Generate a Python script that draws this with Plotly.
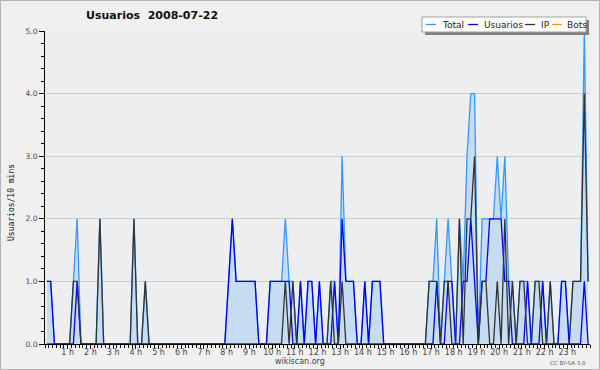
import plotly.graph_objects as go

# 10-minute slots over the day (0 .. 143)
slots = list(range(144))

total = [
    1, 1, 0, 0, 0, 0, 0, 1, 2, 0, 0, 0, 0, 0, 2, 0, 0, 0, 0, 0, 0, 0, 0, 2,
    0, 0, 1, 0, 0, 0, 0, 0, 0, 0, 0, 0, 0, 0, 0, 0, 0, 0, 0, 0, 0, 0, 0, 0,
    1, 2, 1, 1, 1, 1, 1, 1, 0, 0, 0, 1, 1, 1, 1, 2, 1, 1, 0, 1, 0, 1, 1, 0,
    1, 0, 0, 1, 1, 0, 3, 1, 1, 1, 0, 0, 1, 0, 1, 1, 1, 0, 0, 0, 0, 0, 0, 0,
    0, 0, 0, 0, 0, 1, 1, 2, 0, 1, 2, 1, 0, 2, 1, 3, 4, 4, 0, 2, 2, 2, 2, 3,
    2, 3, 1, 1, 0, 1, 1, 1, 0, 1, 1, 1, 0, 1, 0, 0, 1, 1, 0, 1, 1, 1, 5, 1,
]
usuarios = [
    1, 1, 0, 0, 0, 0, 0, 0, 1, 0, 0, 0, 0, 0, 0, 0, 0, 0, 0, 0, 0, 0, 0, 0,
    0, 0, 0, 0, 0, 0, 0, 0, 0, 0, 0, 0, 0, 0, 0, 0, 0, 0, 0, 0, 0, 0, 0, 0,
    1, 2, 1, 1, 1, 1, 1, 1, 0, 0, 0, 1, 1, 1, 1, 1, 1, 0, 0, 1, 0, 1, 1, 0,
    1, 0, 0, 0, 1, 0, 2, 1, 1, 1, 0, 0, 1, 0, 1, 1, 1, 0, 0, 0, 0, 0, 0, 0,
    0, 0, 0, 0, 0, 0, 0, 1, 0, 0, 1, 1, 0, 0, 1, 1, 2, 1, 0, 1, 1, 2, 2, 2,
    2, 1, 1, 0, 0, 0, 0, 1, 0, 0, 0, 1, 0, 0, 0, 0, 1, 1, 0, 0, 0, 0, 1, 0,
]
ip = [
    0, 0, 0, 0, 0, 0, 0, 1, 1, 0, 0, 0, 0, 0, 2, 0, 0, 0, 0, 0, 0, 0, 0, 2,
    0, 0, 1, 0, 0, 0, 0, 0, 0, 0, 0, 0, 0, 0, 0, 0, 0, 0, 0, 0, 0, 0, 0, 0,
    0, 0, 0, 0, 0, 0, 0, 0, 0, 0, 0, 0, 0, 0, 0, 1, 0, 1, 0, 0, 0, 0, 0, 0,
    0, 0, 0, 1, 0, 0, 1, 0, 0, 0, 0, 0, 0, 0, 0, 0, 0, 0, 0, 0, 0, 0, 0, 0,
    0, 0, 0, 0, 0, 1, 1, 1, 0, 1, 1, 0, 0, 2, 0, 2, 2, 3, 0, 1, 1, 0, 0, 1,
    0, 2, 0, 1, 0, 1, 1, 0, 0, 1, 1, 0, 0, 1, 0, 0, 0, 0, 0, 1, 1, 1, 4, 1,
]
bots = [
    0, 0, 0, 0, 0, 0, 0, 0, 0, 0, 0, 0, 0, 0, 0, 0, 0, 0, 0, 0, 0, 0, 0, 0,
    0, 0, 0, 0, 0, 0, 0, 0, 0, 0, 0, 0, 0, 0, 0, 0, 0, 0, 0, 0, 0, 0, 0, 0,
    0, 0, 0, 0, 0, 0, 0, 0, 0, 0, 0, 0, 0, 0, 0, 0, 0, 0, 0, 0, 0, 0, 0, 0,
    0, 0, 0, 0, 0, 0, 0, 0, 0, 0, 0, 0, 0, 0, 0, 0, 0, 0, 0, 0, 0, 0, 0, 0,
    0, 0, 0, 0, 0, 0, 0, 0, 0, 0, 0, 0, 0, 0, 0, 0, 0, 0, 0, 0, 0, 0, 0, 0,
    0, 0, 0, 0, 0, 0, 0, 0, 0, 0, 0, 0, 0, 0, 0, 0, 0, 0, 0, 0, 0, 0, 0, 0,
]
hour_ticks = [6 * h - 0.5 for h in range(1, 24)]
hour_labels = [f"{h} h" for h in range(1, 24)]
y_ticks = [0, 1, 2, 3, 4, 5]
y_labels = ["0.0", "1.0", "2.0", "3.0", "4.0", "5.0"]

C_TOTAL = "#3399ff"
C_FILL = "#c6ddf1"
C_USR = "#0000ff"
C_IP = "#333333"
C_BOTS = "#ff9900"

W, H = 600, 370
L, R, T, B = 45, 590, 31, 344

def px(x):
    return (x - L) / (R - L)

def py(y):
    return (B - y) / (B - T)

fig = go.Figure()
fig.add_trace(go.Scatter(x=slots, y=bots, mode="lines", line=dict(color=C_BOTS, width=1.3), showlegend=False))
fig.add_trace(go.Scatter(x=slots, y=total, mode="lines", fill="tozeroy", fillcolor=C_FILL,
                         line=dict(color=C_TOTAL, width=1.3), showlegend=False))
fig.add_trace(go.Scatter(x=slots, y=usuarios, mode="lines", line=dict(color=C_USR, width=1.3), showlegend=False))
fig.add_trace(go.Scatter(x=slots, y=ip, mode="lines", line=dict(color=C_IP, width=1.3), showlegend=False))

shapes = []
annotations = []

# outer frame
shapes.append(dict(type="rect", xref="paper", yref="paper", x0=px(0.5), x1=px(599.5), y0=py(369.5), y1=py(0.5),
                   line=dict(color="#b4b4b4", width=1), layer="below"))

# legend (drawn manually)
shapes.append(dict(type="rect", xref="paper", yref="paper", x0=px(425), x1=px(589), y0=py(35), y1=py(20),
                   fillcolor="#808080", line=dict(width=0)))
shapes.append(dict(type="rect", xref="paper", yref="paper", x0=px(422), x1=px(586), y0=py(32), y1=py(17),
                   fillcolor="#ffffff", line=dict(color="#a0a0a0", width=1)))
legend_items = [("Total", C_TOTAL, 426, 441), ("Usuarios", C_USR, 468, 483),
                ("IP", C_IP, 525, 540), ("Bots", C_BOTS, 552, 566)]
for name, col, lx, tx in legend_items:
    shapes.append(dict(type="line", xref="paper", yref="paper", x0=px(lx), x1=px(lx + 10), y0=py(24.5), y1=py(24.5),
                       line=dict(color=col, width=1.3)))
    annotations.append(dict(text=name, xref="paper", yref="paper", x=px(tx), y=py(24.5), xanchor="left",
                            yanchor="middle", showarrow=False, borderpad=0,
                            font=dict(family="DejaVu Sans", size=9, color="#222")))

# title
annotations.append(dict(text="<b>Usuarios\u00a0\u00a02008-07-22</b>", xref="paper", yref="paper", x=px(84), y=py(16),
                        xanchor="left", yanchor="middle", showarrow=False,
                        font=dict(family="DejaVu Sans", size=11, color="#111")))
# y-axis title
annotations.append(dict(text="Usuarios/10 mins", xref="paper", yref="paper", x=px(11), y=py(203), textangle=-90,
                        xanchor="center", yanchor="middle", showarrow=False,
                        font=dict(family="DejaVu Sans Mono", size=8, color="#111")))
# footer
annotations.append(dict(text="wikiscan.org", xref="paper", yref="paper", x=px(300), y=py(361.5), xanchor="center",
                        yanchor="middle", showarrow=False, font=dict(family="DejaVu Sans", size=8, color="#444")))
annotations.append(dict(text="CC BY-SA 3.0", xref="paper", yref="paper", x=px(588), y=py(363), xanchor="right",
                        yanchor="middle", showarrow=False, font=dict(family="DejaVu Sans", size=5.5, color="#555")))

fig.update_layout(
    width=W, height=H,
    margin=dict(l=L, r=W - R, t=T, b=H - B, pad=0),
    paper_bgcolor="#f0f0f0", plot_bgcolor="#edeef0",
    showlegend=False,
    shapes=shapes, annotations=annotations,
    xaxis=dict(range=[-0.5, 143.5], tickmode="array", tickvals=hour_ticks, ticktext=hour_labels,
               ticks="outside", ticklen=4, tickwidth=1, tickcolor="#000", ticklabelstandoff=-4,
               minor=dict(tickmode="linear", tick0=-0.5, dtick=1, ticks="outside", ticklen=3, tickcolor="#000"),
               showgrid=False, zeroline=False, showline=True, linecolor="#000", linewidth=1,
               tickfont=dict(family="DejaVu Sans", size=8, color="#444"), layer="above traces", fixedrange=True),
    yaxis=dict(range=[0, 5], tickmode="array", tickvals=y_ticks, ticktext=y_labels,
               ticks="outside", ticklen=5, tickwidth=1, tickcolor="#000",
               minor=dict(tickmode="linear", tick0=0, dtick=0.2, ticks="outside", ticklen=3, tickcolor="#000"),
               showgrid=True, gridcolor="#cccccc", gridwidth=1, zeroline=False,
               showline=True, linecolor="#000", linewidth=1,
               tickfont=dict(family="DejaVu Sans", size=7.5, color="#444"), layer="above traces", fixedrange=True),
)

fig.write_html("out.html")
